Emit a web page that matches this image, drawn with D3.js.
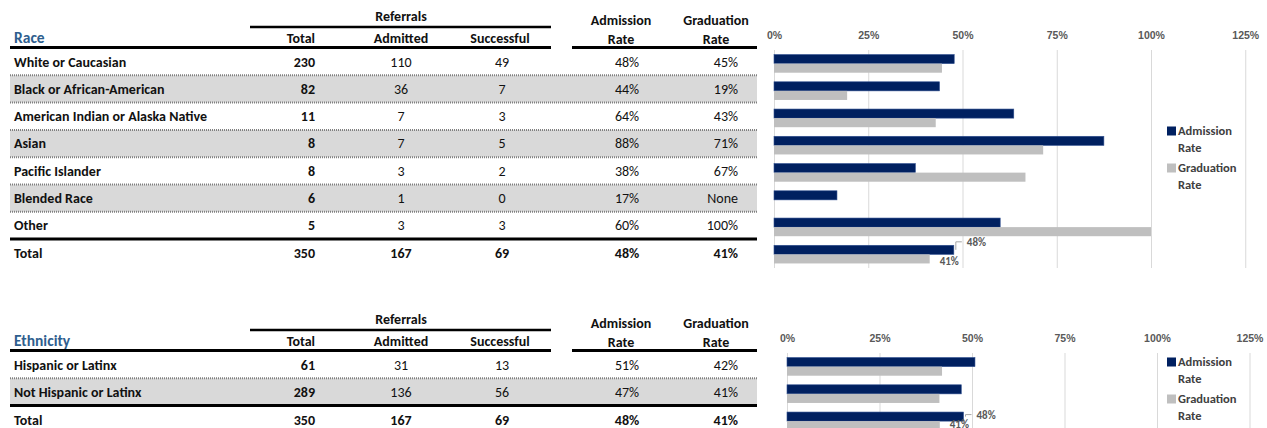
<!DOCTYPE html>
<html>
<head>
<meta charset="utf-8">
<script src="https://cdn.jsdelivr.net/npm/d3@7"></script>
<style>
  body { margin: 0; background: #fff; }
  svg { font-family: Carlito, Lato, "Liberation Sans", sans-serif; }
  .grid line { stroke: #d9d9d9; }
  .grid .domain { display: none; }
  .xaxis .domain { display: none; }
  .xaxis text { font-size: 10.5px; font-weight: bold; fill: #595959; }
</style>
</head>
<body>
<svg id="chart" width="1267" height="428"></svg>
<script>
// race table + chart
const raceCategories = ["White or Caucasian", "Black or African-American", "American Indian or Alaska Native", "Asian", "Pacific Islander", "Blended Race", "Other", "Total"];
const raceTotal = [230, 82, 11, 8, 8, 6, 5, 350];
const raceAdmitted = [110, 36, 7, 7, 3, 1, 3, 167];
const raceSuccessful = [49, 7, 3, 5, 2, 0, 3, 69];
const raceAdmissionRate = [0.478, 0.439, 0.636, 0.875, 0.375, 0.167, 0.60, 0.477];
const raceGraduationRate = [0.4455, 0.194, 0.429, 0.714, 0.667, null, 1.0, 0.413];

// ethnicity table + chart
const ethCategories = ["Hispanic or Latinx", "Not Hispanic or Latinx", "Total"];
const ethTotal = [61, 289, 350];
const ethAdmitted = [31, 136, 167];
const ethSuccessful = [13, 56, 69];
const ethAdmissionRate = [0.508, 0.471, 0.477];
const ethGraduationRate = [0.419, 0.412, 0.413];

const tickValues = [0, 0.25, 0.5, 0.75, 1, 1.25];
const legendLabels = [["Admission", "Rate"], ["Graduation", "Rate"]];

const NAVY = "#002060";
const GREY = "#bfbfbf";
const FS = 14;
const svg = d3.select("#chart");
const fmt = d3.format(".0%");

function txt(g, x, y, s, size, anchor, bold, color) {
  return g.append("text")
    .attr("x", x)
    .attr("y", y + size * 0.35)
    .attr("text-anchor", anchor)
    .attr("font-size", size)
    .attr("font-weight", bold ? "bold" : "normal")
    .attr("fill", color || "#111")
    .text(s);
}

function drawSection(top, title, cats, totals, admitted, successful, admRate, gradRate, xRange, legendTop) {
  const g = svg.append("g").attr("transform", "translate(0," + top + ")");
  const n = cats.length;
  const rowH = 27.3;
  const rowY = d3.scaleBand().domain(cats).range([48, 48 + rowH * n]);

  // grey banding
  g.selectAll("rect.band")
    .data(cats.filter((c, i) => i % 2 == 1 && i < n - 1))
    .enter().append("rect")
    .attr("class", "band")
    .attr("x", 10).attr("width", 747)
    .attr("y", d => rowY(d)).attr("height", rowH)
    .attr("fill", "#d9d9d9");

  // dotted separators
  g.selectAll("line.sep")
    .data(cats.slice(1, n - 1))
    .enter().append("line")
    .attr("x1", 10).attr("x2", 757)
    .attr("y1", d => rowY(d)).attr("y2", d => rowY(d))
    .attr("stroke", "#808080").attr("stroke-width", 2)
    .attr("stroke-dasharray", "1,1");

  // thick rules
  g.append("line").attr("x1", 250).attr("x2", 551).attr("y1", 27).attr("y2", 27)
    .attr("stroke", "#000").attr("stroke-width", 2.5);
  g.append("line").attr("x1", 10).attr("x2", 551).attr("y1", 47.5).attr("y2", 47.5)
    .attr("stroke", "#000").attr("stroke-width", 3);
  g.append("line").attr("x1", 572).attr("x2", 757).attr("y1", 47.5).attr("y2", 47.5)
    .attr("stroke", "#000").attr("stroke-width", 3);
  g.append("line").attr("x1", 10).attr("x2", 757)
    .attr("y1", rowY(cats[n - 1])).attr("y2", rowY(cats[n - 1]))
    .attr("stroke", "#000").attr("stroke-width", 3);

  // headers
  txt(g, 401, 16, "Referrals", FS, "middle", true);
  txt(g, 14, 38, title, 15.5, "start", true, "#2e5e8e");
  txt(g, 315, 38, "Total", FS, "end", true);
  txt(g, 401, 38, "Admitted", FS, "middle", true);
  txt(g, 500, 38, "Successful", FS, "middle", true);
  txt(g, 621, 20, "Admission", FS, "middle", true);
  txt(g, 621, 39, "Rate", FS, "middle", true);
  txt(g, 716, 20, "Graduation", FS, "middle", true);
  txt(g, 716, 39, "Rate", FS, "middle", true);

  // rows
  cats.forEach((c, i) => {
    const cy = rowY(c) + rowH / 2 + (i == n - 1 ? 0.5 : 0);
    const isTot = i == n - 1;
    txt(g, 14, cy, c, FS, "start", true);
    txt(g, 315, cy, totals[i], FS, "end", true);
    txt(g, 401, cy, admitted[i], FS, "middle", isTot);
    txt(g, 502, cy, successful[i], FS, "middle", isTot);
    txt(g, 627, cy, fmt(admRate[i]), FS, "middle", isTot);
    txt(g, 738, cy, gradRate[i] == null ? "None" : fmt(gradRate[i]), FS, "end", isTot);
  });

  // bar chart
  const x = d3.scaleLinear().domain([0, 1.25]).range(xRange);
  const y = d3.scaleBand().domain(cats).range([50, 50 + 27.25 * n]);
  const ySub = d3.scaleBand().domain(["adm", "grad"]).range([0, y.bandwidth()]).paddingOuter(0.5);

  g.append("g").attr("class", "grid")
    .attr("transform", "translate(0,50)")
    .call(d3.axisBottom(x).tickValues(tickValues).tickSize(27.25 * n).tickFormat(""));

  g.append("g").attr("class", "xaxis")
    .attr("transform", "translate(0,42)")
    .call(d3.axisTop(x).tickValues(tickValues).tickFormat(fmt).tickSize(0).tickPadding(3));

  g.selectAll("rect.adm")
    .data(cats)
    .enter().append("rect")
    .attr("x", x(0))
    .attr("y", d => y(d) + ySub("adm"))
    .attr("width", (d, i) => x(admRate[i]) - x(0))
    .attr("height", ySub.bandwidth())
    .attr("fill", NAVY)
    .attr("stroke", "#2f4f8f").attr("stroke-width", 0.6);

  g.selectAll("rect.grad")
    .data(cats.filter((d, i) => gradRate[i] != null))
    .enter().append("rect")
    .attr("x", x(0))
    .attr("y", d => y(d) + ySub("grad"))
    .attr("width", d => x(gradRate[cats.indexOf(d)]) - x(0))
    .attr("height", ySub.bandwidth())
    .attr("fill", GREY);

  // labels on total bars
  const last = cats[n - 1];
  const ax = x(admRate[n - 1]);
  const ay = y(last) + ySub("adm") + ySub.bandwidth() / 2;
  const lift = top == 0 ? 8 : 2;
  g.append("path")
    .attr("d", "M" + (ax + 2) + "," + ay + "V" + (ay - lift) + "H" + (ax + 8))
    .attr("fill", "none").attr("stroke", "#a6a6a6").attr("stroke-width", 1);
  txt(g, ax + 13, ay - lift + 0.5, fmt(admRate[n - 1]), 11, "start", true, "#595959");
  const gx = x(gradRate[n - 1]);
  const gy = y(last) + ySub("grad") + ySub.bandwidth() / 2;
  txt(g, gx + 10, gy + (top == 0 ? 2 : -1.5), fmt(gradRate[n - 1]), 11, "start", true, "#595959");

  // legend
  const leg = g.append("g").attr("transform", "translate(1167," + legendTop + ")");
  legendLabels.forEach((l, i) => {
    leg.append("rect").attr("x", 0).attr("y", i * 37 - 4.5).attr("width", 9).attr("height", 9)
      .attr("fill", i == 0 ? NAVY : GREY);
    txt(leg, 11, i * 37, l[0], 12.5, "start", true, "#404040");
    txt(leg, 11, i * 37 + 16.5, l[1], 12.5, "start", true, "#404040");
  });
}

drawSection(0, "Race", raceCategories, raceTotal, raceAdmitted, raceSuccessful,
  raceAdmissionRate, raceGraduationRate, [774, 1245.25], 131);
drawSection(303, "Ethnicity", ethCategories, ethTotal, ethAdmitted, ethSuccessful,
  ethAdmissionRate, ethGraduationRate, [787, 1249.5], 59);
</script>
</body>
</html>
